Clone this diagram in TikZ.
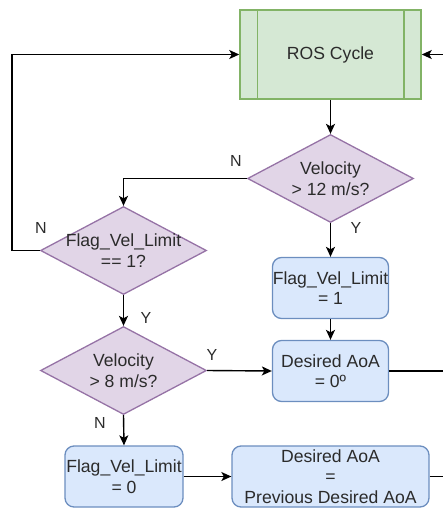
\documentclass[tikz,border=0pt]{standalone}
\usepackage{fontspec}
\setmainfont{Liberation Sans}
\usetikzlibrary{shapes.geometric,arrows.meta}
\definecolor{gfill}{HTML}{D5E8D4}\definecolor{gline}{HTML}{82B366}
\definecolor{pfill}{HTML}{E1D5E7}\definecolor{pline}{HTML}{9673A6}
\definecolor{bfill}{HTML}{DAE8FC}\definecolor{bline}{HTML}{6C8EBF}
\definecolor{txt}{HTML}{2B2B2B}
\begin{document}
\begin{tikzpicture}[x=1pt,y=-1pt,
  every node/.style={font=\fontsize{17.6}{20.5}\selectfont,text=txt,align=center},
  procbox/.style={draw=gline,fill=gfill,line width=1.5pt,minimum width=181pt,minimum height=89pt,inner sep=0pt},
  decide/.style={diamond,draw=pline,fill=pfill,line width=1.3pt,minimum width=166pt,minimum height=88pt,inner sep=0pt},
  actbox/.style={draw=bline,fill=bfill,line width=1.3pt,rounded corners=9pt,minimum height=61pt,inner sep=0pt},
  arr/.style={line width=1.4pt,-{Stealth[length=10pt,width=9pt,inset=2.5pt]}},
  ln/.style={line width=1.4pt},
  lab/.style={font=\fontsize{16}{18}\selectfont}]
\useasboundingbox (0,0) rectangle (443,509);
\node[procbox] (ros) at (330.5,54.5) {ROS Cycle};
\draw[gline,line width=1.5pt] ([xshift=18pt]ros.north west) -- ([xshift=18pt]ros.south west)
  ([xshift=-18pt]ros.north east) -- ([xshift=-18pt]ros.south east);
\node[decide] (d1) at (330.5,178.5) {};
\node at (d1.center) {Velocity\\> 12 m/s?};
\node[decide] (d2) at (123.5,250.5) {};
\node at (d2.center) {Flag\_Vel\_Limit\\== 1?};
\node[decide] (d3) at (123.5,370.5) {};
\node at (d3.center) {Velocity\\> 8 m/s?};
\node[actbox,minimum width=116pt] (b1) at (330.5,288) {Flag\_Vel\_Limit\\= 1};
\node[actbox,minimum width=116pt] (b2) at (330.5,371) {Desired AoA\\= 0º};
\node[actbox,minimum width=118pt] (b3) at (124,476.5) {Flag\_Vel\_Limit\\= 0};
\node[actbox,minimum width=197pt] (b4) at (330.5,476.5) {Desired AoA\\=\\Previous Desired AoA};
\coordinate (e1) at (443,54.5);
\coordinate (e2) at (443,371);
\coordinate (e3) at (443,476.5);
\coordinate (loop) at (12,250.5);
\draw[arr] (ros.south) -- (d1.north);
\draw[arr] (d1.west) -| (d2.north);
\draw[arr] (d1.south) -- (b1.north);
\draw[arr] (b1.south) -- (b2.north);
\draw[arr] (d2.west) -- (loop) |- (ros.west);
\draw[arr] (d2.south) -- (d3.north);
\draw[arr] (d3.east) -- (b2.west);
\draw[arr] (d3.south) -- (b3.north);
\draw[arr] (b3.east) -- (b4.west);
\draw[arr] (e1) -- (ros.east);
\draw[ln] (b2.east) -- (e2);
\draw[ln] (b4.east) -- (e3);
\node[lab] at (236,161) {N};
\node[lab] at (356,228) {Y};
\node[lab] at (41,228) {N};
\node[lab] at (146,318) {Y};
\node[lab] at (212,355) {Y};
\node[lab] at (100,423) {N};
\end{tikzpicture}
\end{document}
